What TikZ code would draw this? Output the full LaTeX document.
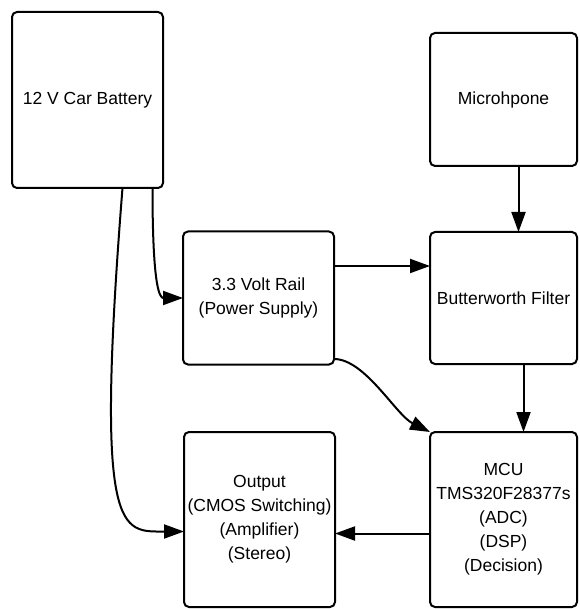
\documentclass[tikz,border=0pt]{standalone}
\usepackage{fontspec}
\setmainfont{Liberation Sans}
\usepackage{tikz}
\usetikzlibrary{arrows.meta,positioning,calc}
\tikzset{box/.style={draw=black,fill=white,line width=2pt,rounded corners=5pt,
  align=center,inner sep=0pt,outer sep=0pt,font=\fontsize{17.5pt}{24pt}\selectfont},
  flow/.style={-{Triangle[length=20pt,width=14pt]},line width=2pt,draw=black}}

\begin{document}
\begin{tikzpicture}[x=1pt,y=-1pt]
\useasboundingbox (0,0) rectangle (579,609);
\node[box,minimum width=151pt,minimum height=176pt] (bat) at (87.5,100) {12 V Car Battery};
\node[box,minimum width=147pt,minimum height=133pt] (mic) at (503.5,99.5) {Microhpone};
\node[box,below=66pt of mic,minimum width=147pt,minimum height=132pt] (bw) {Butterworth Filter};
\node[box,left=96pt of bw,minimum width=151pt,minimum height=133pt] (ps) {3.3 Volt Rail\\(Power Supply)};
\node[box,below=68pt of bw,minimum width=147pt,minimum height=175pt] (mcu) {MCU\\TMS320F28377s\\(ADC)\\(DSP)\\(Decision)};
\node[box,left=95pt of mcu,minimum width=151pt,minimum height=175pt] (out) {Output\\(CMOS Switching)\\(Amplifier)\\(Stereo)};
% straight connectors
\draw[flow] ([xshift=15pt]mic.south) -- ([xshift=15pt]bw.north);
\draw[flow] ([xshift=20pt]bw.south) -- ([xshift=20pt]mcu.north);
\draw[flow] ([yshift=32pt]ps.east) -- ([yshift=32pt]bw.west);
\draw[flow] ([yshift=-14pt]mcu.west) -- ([yshift=-14pt]out.east);
% curved connectors
\draw[flow] ([xshift=65pt]bat.south) .. controls +(0,102) and +(-23,0) .. (ps.west);
\draw[flow] ([xshift=35pt]bat.south) .. controls +(-28,352) and +(-63,0) .. ([yshift=-12pt]out.west);
\draw[flow] ([yshift=-61pt]ps.east) .. controls +(31,0) and +(-34,-17) .. (mcu.north west);
\end{tikzpicture}
\end{document}
